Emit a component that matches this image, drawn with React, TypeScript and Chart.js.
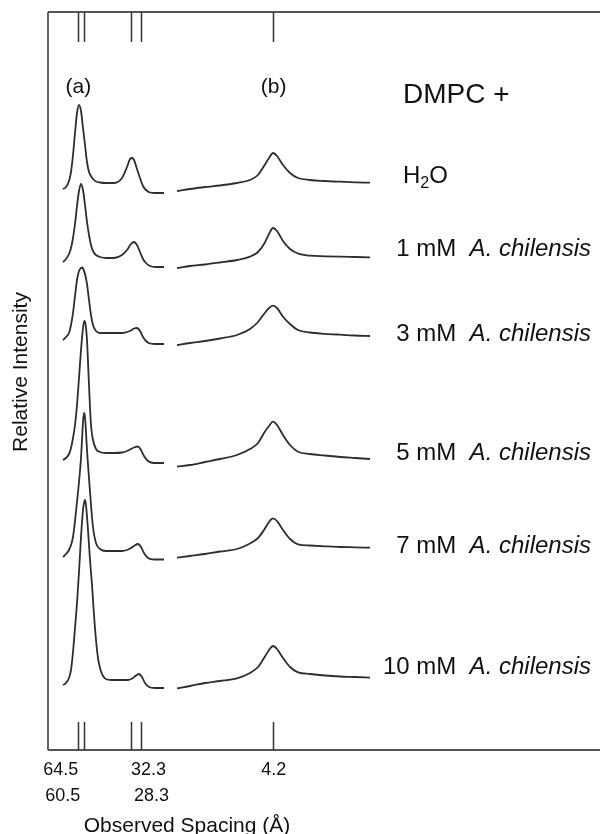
import React, { useEffect, useRef } from "react";
import { Chart, registerables } from "chart.js";

Chart.register(...registerables);

const W = 600;
const H = 834;
const FONT = '"Liberation Sans", Arial, Helvetica, sans-serif';

// x: detector position (arbitrary channel units), y: stacked relative intensity (arb. units)
const X_MIN = 0;
const X_MAX = 552;
const Y_MIN = 0;
const Y_MAX = 738;

const sampleNames = ["H2O", "1 mM", "3 mM", "5 mM", "7 mM", "10 mM"];
const speciesName = "A. chilensis";
const headerText = "DMPC +";
const regionLabels = ["(a)", "(b)"];

const tickPositions = [30.3, 36.3, 83, 92.7, 224.7];
const tickLabels = ["64.5", "60.5", "32.3", "28.3", "4.2"];
const xTitle = "Observed Spacing (Å)";
const yTitle = "Relative Intensity";

// low-angle region (a): [position, intensity]
const lowH2O = [[15,561],[18,563],[21,569],[23,578],[25,595],[27,617],[29,637],[31,645],[33,639],[35,622],[37,605],[39,588],[41,578],[43,574],[45,571],[48,568.5],[52,567.5],[58,567],[66,567],[74,572],[79,583],[82,591],[84,592],[86,590],[89,581],[92,572],[95,564],[98,560],[102,557.5],[108,557],[116,557]];
const low1mM = [[15,488],[18,491],[21,496],[23,502],[25,512],[27,526],[29,544],[31,559],[33,566],[35,560],[37,545],[39,528],[41,515],[43,505],[45,499],[48,495],[52,493],[58,492],[66,492],[74,495],[79,500],[83,506],[86,508],[89,505],[92,498],[95,491],[98,487],[102,484],[108,483],[116,483]];
const low3mM = [[15,410],[18,413],[21,417],[23,425],[25,437],[27,454],[29,470],[31,479],[33,482],[34,482.5],[35,481.5],[37,476],[39,466],[41,450],[43,435],[45,425],[48,419],[52,417],[58,417],[66,417],[74,417],[79,418],[83,419.5],[86,421.5],[89,422],[92,419],[95,413],[98,409],[102,406.5],[108,406],[116,406]];
const low5mM = [[15,290],[18,292],[21,296],[23,302],[25,312],[27,325],[29,345],[31,372],[33,400],[35,422],[36.3,429],[37.5,426],[39,410],[41,365],[43,325],[45,310],[48,301],[52,298],[58,297],[66,297],[74,297.5],[79,299],[83,301],[86,302.5],[90,303.5],[93,300],[96,294],[100,289],[106,287],[116,287]];
const low7mM = [[15,193],[18,196],[21,200],[23,205],[25,213],[27,229],[29,248],[31,268],[33,292],[34,310],[35,328],[36,337],[37,333],[38,318],[39,300],[41,272],[43,245],[45,223],[48,207],[52,201],[58,199],[66,199],[74,199],[79,200],[83,202],[86,204],[90,206],[93,203],[96,197],[100,192],[106,190.5],[116,190.5]];
const low10mM = [[15,65],[18,67],[21,72],[23,80],[25,98],[27,122],[29,147],[31,178],[33,213],[35,240],[36,247],[37,250],[38,245],[40,220],[42,190],[44,165],[46,135],[48,110],[50,92],[52,82],[55,74],[59,70.5],[65,70],[72,70],[80,70],[85,72],[88,74.5],[91,76],[94,73],[97,67],[101,63],[107,62],[116,62]];

// wide-angle region (b): shared positions, one intensity list per sample
const xWide = [129,142,157,172,189,202,210,216,221,225,229,235,242,250,262,277,292,307,322];
const wideH2O = [559,561,563,564.5,567,570,575,584,592,597,594,585,577,572,570,569,568.3,567.7,567.3];
const wide1mM = [482,484,485.5,487.5,490,493.3,498,506,516,522,519,509,501,496.5,494.3,493.7,493.3,493,492.7];
const wide3mM = [405,407,409,411.5,415,421,428,436,442,444.3,442,433.3,426,420,417.5,416.2,415.3,414.5,414];
const wide5mM = [283.3,285,288,291,295,301,307,317,324,328.3,325,315,305,298.3,296,294.5,293,292,291];
const wide7mM = [192.3,194,196,198.5,201,206.5,212,220,228,231.7,229,220,211,205.7,204.5,203.7,203,202.7,202.3];
const wide10mM = [61.7,64,67,69,71.7,77,83,92,100,104,101,92,83,77.7,76,74.5,73.5,73,72.3];

// label baselines (in intensity units) for each sample name
const labelLevels = [567, 494, 409, 290, 197, 76];

const lowSets = [lowH2O, low1mM, low3mM, low5mM, low7mM, low10mM];
const wideSets = [wideH2O, wide1mM, wide3mM, wide5mM, wide7mM, wide10mM];
const GAP_X = 122;

function buildData(low: number[][], wide: number[]) {
  const pts: { x: number; y: number | null }[] = low.map(([x, y]) => ({ x, y }));
  pts.push({ x: GAP_X, y: null });
  xWide.forEach((x, i) => pts.push({ x, y: wide[i] }));
  return pts;
}

const decorPlugin = {
  id: "decor",
  afterDraw(chart: any) {
    const { ctx, chartArea: ca, scales } = chart;
    const xs = scales.x;
    const ys = scales.y;
    ctx.save();

    // frame
    ctx.strokeStyle = "#555";
    ctx.lineWidth = 1.8;
    ctx.beginPath();
    ctx.moveTo(ca.left, ca.top);
    ctx.lineTo(ca.right, ca.top);
    ctx.moveTo(ca.left, ca.top);
    ctx.lineTo(ca.left, ca.bottom);
    ctx.moveTo(ca.left, ca.bottom);
    ctx.lineTo(ca.right, ca.bottom);
    ctx.stroke();

    // inner tick marks (top and bottom)
    ctx.strokeStyle = "#333";
    ctx.lineWidth = 1.5;
    ctx.beginPath();
    tickPositions.forEach((v) => {
      const px = Math.round(xs.getPixelForValue(v)) + 0.5;
      ctx.moveTo(px, ca.top);
      ctx.lineTo(px, ca.top + 30);
      ctx.moveTo(px, ca.bottom);
      ctx.lineTo(px, ca.bottom - 28);
    });
    ctx.stroke();

    // tick labels: two stacked rows under each pair
    const layout = [
      { row: 0, anchor: 0, align: "right", dx: 0 },
      { row: 1, anchor: 0, align: "right", dx: 2 },
      { row: 0, anchor: 2, align: "left", dx: 0 },
      { row: 1, anchor: 2, align: "left", dx: 3 },
      { row: 0, anchor: 4, align: "center", dx: 1 },
    ];
    ctx.fillStyle = "#111";
    ctx.font = `18px ${FONT}`;
    ctx.textBaseline = "alphabetic";
    tickLabels.forEach((t, i) => {
      const l = layout[i];
      ctx.textAlign = l.align;
      const px = xs.getPixelForValue(tickPositions[l.anchor]) + l.dx;
      ctx.fillText(t, px, ca.bottom + 25 + l.row * 26);
    });

    // axis titles
    ctx.font = `21px ${FONT}`;
    ctx.textAlign = "center";
    ctx.fillText(xTitle, xs.getPixelForValue(139), ca.bottom + 82);
    ctx.save();
    ctx.translate(ca.left - 21, (ca.top + ca.bottom) / 2 - 9);
    ctx.rotate(-Math.PI / 2);
    ctx.fillText(yTitle, 0, 0);
    ctx.restore();

    // region labels
    ctx.font = `21px ${FONT}`;
    ctx.textAlign = "center";
    ctx.fillText(regionLabels[0], xs.getPixelForValue(tickPositions[0]), ca.top + 81);
    ctx.fillText(regionLabels[1], xs.getPixelForValue(tickPositions[4]) + 1, ca.top + 81);

    // header
    const leftX = xs.getPixelForValue(355);
    ctx.textAlign = "left";
    ctx.font = `28px ${FONT}`;
    ctx.fillText(headerText, leftX, ca.top + 91);

    // sample labels
    const rightX = xs.getPixelForValue(543);
    sampleNames.forEach((name, i) => {
      const y = ys.getPixelForValue(labelLevels[i]);
      if (name === "H2O") {
        ctx.textAlign = "left";
        ctx.font = `24px ${FONT}`;
        ctx.fillText("H", leftX, y);
        let x = leftX + ctx.measureText("H").width;
        ctx.font = `16px ${FONT}`;
        ctx.fillText("2", x, y + 5);
        x += ctx.measureText("2").width;
        ctx.font = `24px ${FONT}`;
        ctx.fillText("O", x, y);
      } else {
        ctx.textAlign = "left";
        ctx.font = `italic 24px ${FONT}`;
        const wi = ctx.measureText(speciesName).width;
        const xi = rightX - wi;
        ctx.fillText(speciesName, xi, y);
        ctx.font = `24px ${FONT}`;
        const prefix = name + "  ";
        const wp = ctx.measureText(prefix).width;
        ctx.fillText(prefix, xi - wp, y);
      }
    });

    ctx.restore();
  },
};

export default function App() {
  const ref = useRef<HTMLCanvasElement>(null);

  useEffect(() => {
    const canvas = ref.current;
    if (!canvas) return;
    const datasets = sampleNames.map((name, i) => ({
      label: name,
      data: buildData(lowSets[i], wideSets[i]),
      borderColor: "#2e2e2e",
      borderWidth: 1.8,
      pointRadius: 0,
      fill: false,
      spanGaps: false,
      cubicInterpolationMode: "monotone" as const,
    }));
    const chart = new Chart(canvas, {
      type: "line",
      data: { datasets },
      options: {
        animation: false,
        responsive: false,
        maintainAspectRatio: false,
        layout: { padding: { left: 48, top: 12, right: 0, bottom: 84 } },
        scales: {
          x: { type: "linear", min: X_MIN, max: X_MAX, display: false },
          y: { type: "linear", min: Y_MIN, max: Y_MAX, display: false },
        },
        plugins: {
          legend: { display: false },
          tooltip: { enabled: false },
        },
      },
      plugins: [decorPlugin],
    });
    return () => chart.destroy();
  }, []);

  return (
    <div style={{ position: "absolute", left: 0, top: 0, width: W, height: H, background: "#fff" }}>
      <canvas ref={ref} width={W} height={H} style={{ display: "block", width: W, height: H }} />
    </div>
  );
}
